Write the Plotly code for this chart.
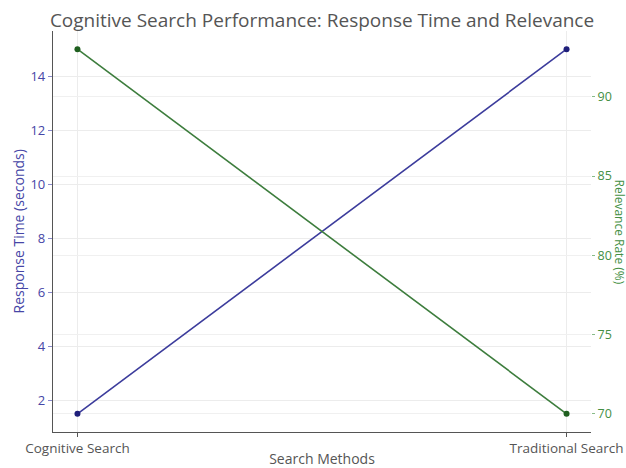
import plotly.graph_objects as go

methods = ["Cognitive Search", "Traditional Search"]
response_time = [1.5, 15]
relevance_rate = [93, 70]

FONT = "Open Sans"
BLUE_TXT = "#4646a6"
GREEN_TXT = "#448f44"

fig = go.Figure()
fig.add_trace(go.Scatter(x=[0, 1], y=response_time, mode="lines+markers",
                         line=dict(color="#3c3c9c", width=1.6),
                         marker=dict(color="#1f1f7a", size=6),
                         name="Response Time", yaxis="y"))
fig.add_trace(go.Scatter(x=[0, 1], y=relevance_rate, mode="lines+markers",
                         line=dict(color="#3d7d3d", width=1.6),
                         marker=dict(color="#1f5f1f", size=6),
                         name="Relevance Rate", yaxis="y2"))

fig.update_layout(
    width=626, height=468,
    margin=dict(l=53, r=35, t=31, b=36),
    paper_bgcolor="white", plot_bgcolor="white",
    showlegend=False,
    font=dict(family=FONT, size=13, color="#444"),
    title=dict(text="Cognitive Search Performance: Response Time and Relevance",
               x=0.5, xref="paper", xanchor="center", y=0.957, yanchor="middle",
               font=dict(family=FONT, size=19, color="#555")),
    xaxis=dict(range=[-0.05, 1.05], tickvals=[0, 1], ticktext=methods,
               showgrid=True, gridcolor="#ececec", gridwidth=1,
               showline=True, linecolor="#555", linewidth=1.2,
               ticks="outside", ticklen=4, tickcolor="#555", automargin=False,
               ticklabeloverflow="allow",
               tickfont=dict(size=13.5, color="#555"), zeroline=False,
               title=dict(text="Search Methods", font=dict(size=14, color="#555"), standoff=3)),
    yaxis=dict(range=[0.825, 15.675], tickvals=[2, 4, 6, 8, 10, 12, 14],
               showgrid=True, gridcolor="#ececec", gridwidth=1,
               showline=True, linecolor="#555", linewidth=1.2,
               ticks="outside", ticklen=4, tickcolor="#8888cc", automargin=False,
               tickfont=dict(size=13, color=BLUE_TXT), zeroline=False),
    yaxis2=dict(range=[68.85, 94.15], tickvals=[70, 75, 80, 85, 90],
                overlaying="y", side="right", automargin=False,
                showgrid=True, gridcolor="#f0f0f0", gridwidth=1,
                showline=False, ticks="outside", ticklen=3, tickcolor="#88bb88",
                tickfont=dict(size=12.5, color=GREEN_TXT), zeroline=False),
    annotations=[
        dict(text="Response Time (seconds)", xref="paper", yref="paper",
             x=-53 / 538, y=0.5, xanchor="center", yanchor="middle",
             xshift=18, textangle=-90, showarrow=False,
             font=dict(size=14, color=BLUE_TXT)),
        dict(text="Relevance Rate (%)", xref="paper", yref="paper",
             x=1.0, y=0.5, xanchor="center", yanchor="middle",
             xshift=28, textangle=90, showarrow=False,
             font=dict(size=12, color=GREEN_TXT)),
    ],
)

fig.write_html("out.html")
